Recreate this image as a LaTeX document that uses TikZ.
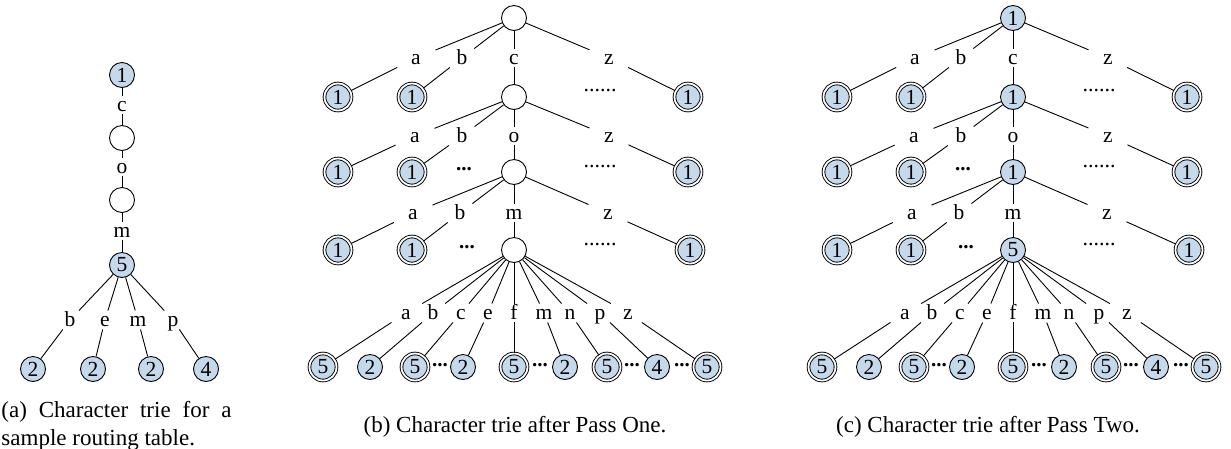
\documentclass[tikz,border=0pt]{standalone}
\usepackage{fontspec}
\setmainfont{Liberation Serif}
\definecolor{nodeblue}{RGB}{198,217,234}
\tikzset{
  tfont/.style={font=\fontsize{21.5}{22}\selectfont},
  emp/.style={circle, draw, fill=white, minimum size=25pt, inner sep=0pt, tfont},
  val/.style={circle, draw, fill=nodeblue, minimum size=25pt, inner sep=0pt, tfont},
  acc/.style={circle, draw, fill=nodeblue, minimum size=27pt, inner sep=0pt, double, double distance=1.8pt, outer sep=1pt, tfont},
  lab/.style={inner xsep=3pt, inner ysep=1pt, minimum width=38pt, text height=14pt, text depth=2pt, tfont},
  dsix/.style={inner sep=0pt, font=\fontsize{22}{22}\selectfont},
  dthree/.style={inner sep=0pt, font=\fontsize{21}{21}\selectfont\bfseries},
  captext/.style={inner sep=0pt, font=\fontsize{23}{28}\selectfont},
}
% #1 prefix, #2 x offset, #3 style of inner nodes, #4 text of upper inner nodes, #5 text of lowest inner node
\newcommand\mytrie[5]{%
\begin{scope}[xshift=#2pt]
 \node[#3] (#1r) at (514,18) {#4};
 % level 1
 \node[lab] (#1la1) at (416,58) {a};
 \node[lab] (#1lb1) at (462,58) {b};
 \node[lab] (#1lc1) at (514,58) {c};
 \node[lab] (#1lz1) at (609,58) {z};
 \node[acc] (#1na1) at (338,97) {1};
 \node[acc] (#1nb1) at (412,97) {1};
 \node[#3] (#1i1) at (514,97) {#4};
 \node[dsix] (#1d1) at (600,91) {......};
 \node[acc] (#1nz1) at (688,97) {1};
 \draw (#1r) -- (#1la1) -- (#1na1);
 \draw (#1r) -- (#1lb1) -- (#1nb1);
 \draw (#1r) -- (#1lc1) -- (#1i1);
 \draw (#1r) -- (#1lz1) -- (#1nz1);
 % level 2
 \node[lab] (#1la2) at (415,136) {a};
 \node[lab] (#1lb2) at (462,136) {b};
 \node[lab] (#1lo2) at (514,136) {o};
 \node[lab] (#1lz2) at (609,136) {z};
 \node[acc] (#1na2) at (338,172) {1};
 \node[acc] (#1nb2) at (412,172) {1};
 \node[dthree] (#1e2) at (464,169) {...};
 \node[#3] (#1i2) at (514,172) {#4};
 \node[dsix] (#1d2) at (600,167) {......};
 \node[acc] (#1nz2) at (688,172) {1};
 \draw (#1i1) -- (#1la2) -- (#1na2);
 \draw (#1i1) -- (#1lb2) -- (#1nb2);
 \draw (#1i1) -- (#1lo2) -- (#1i2);
 \draw (#1i1) -- (#1lz2) -- (#1nz2);
 % level 3
 \node[lab] (#1la3) at (413,213) {a};
 \node[lab] (#1lb3) at (460,213) {b};
 \node[lab] (#1lm3) at (514,213) {m};
 \node[lab] (#1lz3) at (608,213) {z};
 \node[acc] (#1na3) at (338,250) {1};
 \node[acc] (#1nb3) at (412,250) {1};
 \node[dthree] (#1e3) at (467,247) {...};
 \node[#3] (#1i3) at (514,250) {#5};
 \node[dsix] (#1d3) at (600,245) {......};
 \node[acc] (#1nz3) at (690,250) {1};
 \draw (#1i2) -- (#1la3) -- (#1na3);
 \draw (#1i2) -- (#1lb3) -- (#1nb3);
 \draw (#1i2) -- (#1lm3) -- (#1i3);
 \draw (#1i2) -- (#1lz3) -- (#1nz3);
 % fan
 \node[lab] (#1fa) at (406,313) {a};
 \node[lab] (#1fb) at (433,313) {b};
 \node[lab] (#1fc) at (461,313) {c};
 \node[lab] (#1fe) at (488,313) {e};
 \node[lab] (#1ff) at (514,313) {f};
 \node[lab] (#1fm) at (544,313) {m};
 \node[lab] (#1fn) at (570,313) {n};
 \node[lab] (#1fp) at (600,313) {p};
 \node[lab] (#1fz) at (628,313) {z};
 \node[acc] (#1ka) at (323,367) {5};
 \node[val] (#1kb) at (370,367) {2};
 \node[acc] (#1kc) at (415,367) {5};
 \node[val] (#1ke) at (463,367) {2};
 \node[acc] (#1kf) at (514,367) {5};
 \node[val] (#1km) at (565,367) {2};
 \node[acc] (#1kn) at (607,367) {5};
 \node[val] (#1kp) at (657,367) {4};
 \node[acc] (#1kz) at (707,367) {5};
 \node[dthree] at (440,365) {...};
 \node[dthree] at (540,365) {...};
 \node[dthree] at (632,365) {...};
 \node[dthree] at (682,365) {...};
 \foreach \q in {a,b,c,e,f,m,n,p,z}{\draw (#1i3) -- (#1f\q) -- (#1k\q);}
\end{scope}}
\begin{document}
\begin{tikzpicture}[x=1pt,y=-1pt,line width=0.9pt]
\useasboundingbox (0,0) rectangle (1231,448);
% panel (a)
\node[val] (A1) at (122,75) {1};
\node[lab] (Ac) at (122,105) {c};
\node[emp] (Ae1) at (122,138) {};
\node[lab] (Ao) at (122,167) {o};
\node[emp] (Ae2) at (122,200) {};
\node[lab] (Am) at (122,231) {m};
\node[val] (A5) at (122,265) {5};
\node[lab] (Ab) at (70,320) {b};
\node[lab] (Ae) at (105,320) {e};
\node[lab] (Amm) at (138,320) {m};
\node[lab] (Ap) at (173,320) {p};
\node[val] (Lb) at (33,369) {2};
\node[val] (Le) at (93,369) {2};
\node[val] (Lm) at (151,369) {2};
\node[val] (Lp) at (206,369) {4};
\draw (A1) -- (Ac) -- (Ae1) -- (Ao) -- (Ae2) -- (Am) -- (A5);
\draw (A5) -- (Ab) -- (Lb);
\draw (A5) -- (Ae) -- (Le);
\draw (A5) -- (Amm) -- (Lm);
\draw (A5) -- (Ap) -- (Lp);
% panels (b) and (c)
\mytrie{b}{0}{emp}{}{}
\mytrie{c}{499}{val}{1}{5}
% captions
\node[captext, anchor=base west] (capa) at (1,417) {\parbox[t]{230pt}{\hyphenpenalty=10000\tolerance=10000 (a) Character trie for a sample routing table.}};
\node[captext, anchor=base] (capb) at (515,432) {(b) Character trie after Pass One.};
\node[captext, anchor=base] (capc) at (988,432) {(c) Character trie after Pass Two.};
\end{tikzpicture}
\end{document}
